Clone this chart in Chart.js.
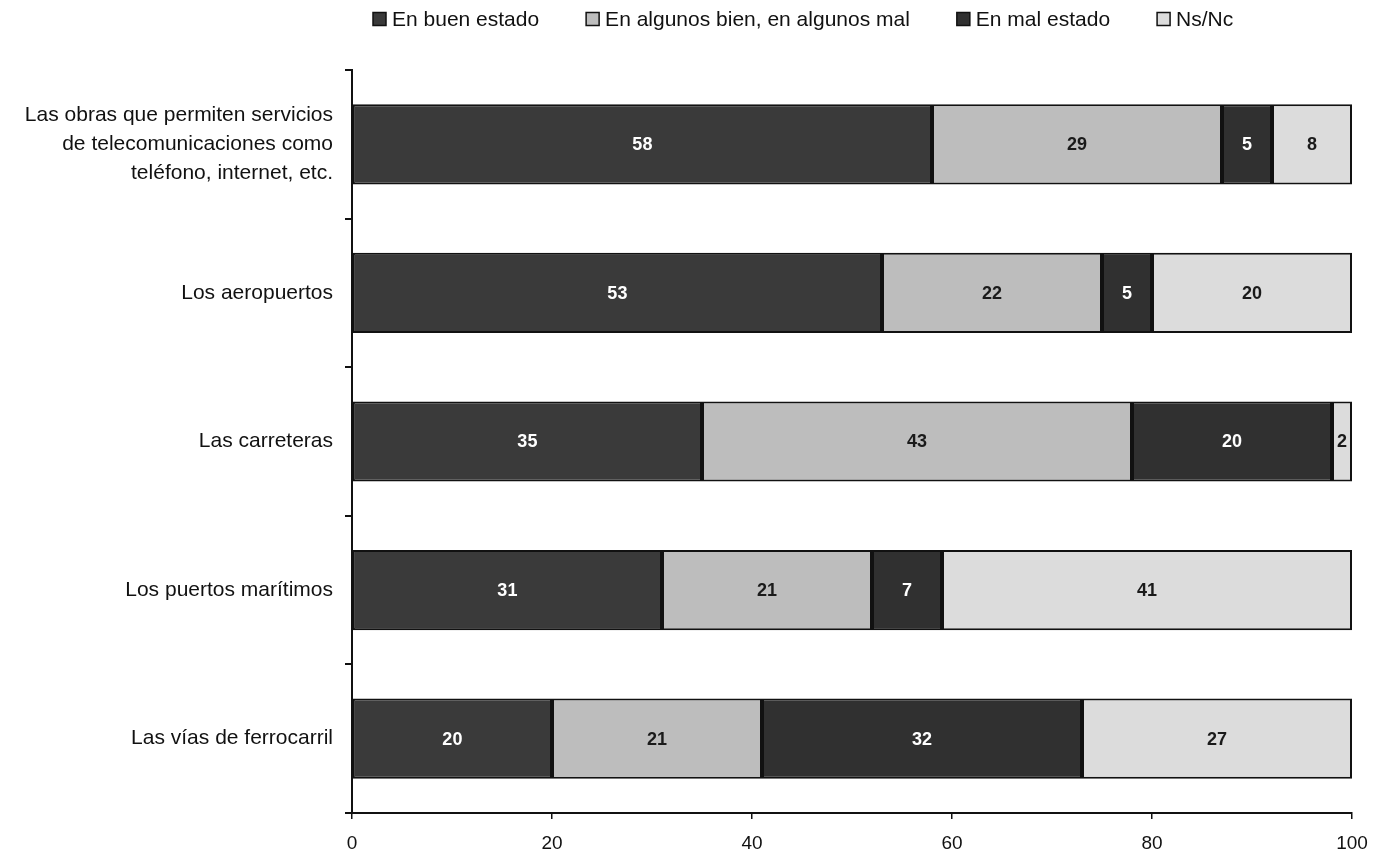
<!DOCTYPE html>
<html>
<head>
<meta charset="utf-8">
<script src="https://cdn.jsdelivr.net/npm/chart.js@4/dist/chart.umd.min.js"></script>
<style>
  html, body { margin: 0; padding: 0; background: #ffffff; }
  #wrap { position: relative; width: 1376px; height: 854px; }
</style>
</head>
<body>
<div id="wrap"><canvas id="c"></canvas></div>
<script>
// Categories (top to bottom) and the four response series, in percent
const categories = [
  ["Las obras que permiten servicios", "de telecomunicaciones como", "teléfono, internet, etc."],
  "Los aeropuertos",
  "Las carreteras",
  "Los puertos marítimos",
  "Las vías de ferrocarril"
];
const seriesNames = ["En buen estado", "En algunos bien, en algunos mal", "En mal estado", "Ns/Nc"];
const buenEstado   = [58, 53, 35, 31, 20];
const algunosBien  = [29, 22, 43, 21, 21];
const malEstado    = [5, 5, 20, 7, 32];
const nsNc         = [8, 20, 2, 41, 27];
const xTicks       = [0, 20, 40, 60, 80, 100];

const fills = ["#3a3a3a", "#bdbdbd", "#303030", "#dcdcdc"];
const labelColors = ["#ffffff", "#1a1a1a", "#ffffff", "#1a1a1a"];
const values = [buenEstado, algunosBien, malEstado, nsNc];

const FONT = "'Liberation Sans', Arial, sans-serif";

// Writes each segment's value at its centre
const valueLabels = {
  id: "valueLabels",
  afterDatasetsDraw(chart) {
    const ctx = chart.ctx;
    ctx.save();
    ctx.font = "bold 18px " + FONT;
    ctx.textAlign = "center";
    ctx.textBaseline = "middle";
    chart.data.datasets.forEach((ds, di) => {
      const meta = chart.getDatasetMeta(di);
      meta.data.forEach((bar, i) => {
        const p = bar.getCenterPoint();
        ctx.fillStyle = labelColors[di];
        ctx.fillText(String(ds.data[i]), p.x, p.y + 1);
      });
    });
    ctx.restore();
  }
};

// Single-row legend across the top, starting just right of the y axis
const topLegend = {
  id: "topLegend",
  afterDraw(chart) {
    const ctx = chart.ctx;
    const box = 13, gapText = 6, gapItem = 47, cy = 19;
    let x = chart.chartArea.left + 21;
    ctx.save();
    ctx.font = "21px " + FONT;
    ctx.textBaseline = "middle";
    ctx.textAlign = "left";
    chart.data.datasets.forEach((ds) => {
      ctx.fillStyle = ds.backgroundColor;
      ctx.fillRect(x, cy - box / 2, box, box);
      ctx.strokeStyle = "#111111";
      ctx.lineWidth = 1.5;
      ctx.strokeRect(x, cy - box / 2, box, box);
      x += box + gapText;
      ctx.fillStyle = "#111111";
      ctx.fillText(ds.label, x, cy + 1);
      x += ctx.measureText(ds.label).width + gapItem;
    });
    ctx.restore();
  }
};

new Chart(document.getElementById("c"), {
  type: "bar",
  data: {
    labels: categories,
    datasets: seriesNames.map((name, i) => ({
      label: name,
      data: values[i],
      backgroundColor: fills[i],
      borderColor: "#111111",
      borderWidth: 2,
      borderSkipped: false,
      barPercentage: 0.54,
      categoryPercentage: 1.0
    }))
  },
  options: {
    indexAxis: "y",
    responsive: true,
    maintainAspectRatio: false,
    animation: false,
    layout: { padding: { top: 70, right: 24, bottom: 0, left: 0 } },
    plugins: {
      tooltip: { enabled: false },
      legend: { display: false }
    },
    scales: {
      x: {
        stacked: true,
        min: 0,
        max: 100,
        afterBuildTicks(scale) { scale.ticks = xTicks.map(v => ({ value: v })); },
        afterFit(scale) {
          scale.height = 41;
          scale.paddingLeft = 0;
          scale.paddingRight = 0;
        },
        ticks: {
          color: "#111111",
          font: { family: FONT, size: 19 },
          padding: 13
        },
        grid: { drawOnChartArea: false, color: "#111111", tickLength: 6, lineWidth: 1.5 },
        border: { color: "#111111", width: 2 }
      },
      y: {
        stacked: true,
        afterFit(scale) {
          scale.width = 352;
          scale.paddingTop = 0;
          scale.paddingBottom = 0;
        },
        ticks: {
          color: "#111111",
          font: { family: FONT, size: 21, lineHeight: 1.38 },
          padding: 12
        },
        grid: { offset: true, drawOnChartArea: false, color: "#111111", tickLength: 7, lineWidth: 2 },
        border: { color: "#111111", width: 2 }
      }
    }
  },
  plugins: [valueLabels, topLegend]
});
</script>
</body>
</html>
